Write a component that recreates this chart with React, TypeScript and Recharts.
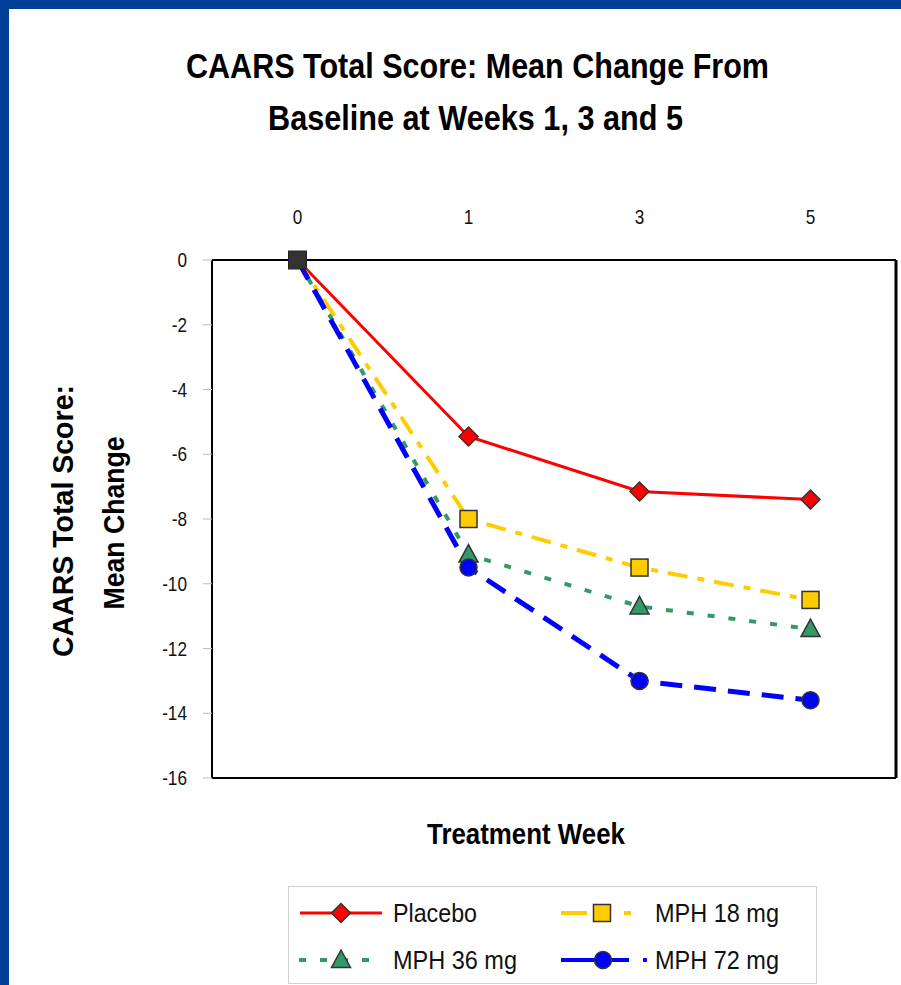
import React from 'react';
import { LineChart, Line, XAxis, YAxis } from 'recharts';

const weeks = ['0', '1', '3', '5'];
const placebo = [0, -5.45, -7.15, -7.4];
const mph18 = [0, -8.0, -9.5, -10.5];
const mph36 = [0, -9.1, -10.7, -11.4];
const mph72 = [0, -9.5, -13.0, -13.6];
const yTicks = [0, -2, -4, -6, -8, -10, -12, -14, -16];

const seriesNames = ['Placebo', 'MPH 18 mg', 'MPH 36 mg', 'MPH 72 mg'];

const data = weeks.map((w, i) => ({
  week: w,
  placebo: placebo[i],
  mph18: mph18[i],
  mph36: mph36[i],
  mph72: mph72[i],
}));

const FONT = '"Liberation Sans", Arial, sans-serif';
const RED = '#ff0000';
const GOLD = '#ffcc00';
const GREEN = '#339966';
const BLUE = '#0000ff';
const MSTROKE = '#333333';
const NAVY = '#003f98';

type Shape = 'diamond' | 'square' | 'triangle' | 'circle';

function Marker({ shape, cx, cy, fill }: { shape: Shape; cx: number; cy: number; fill: string }) {
  if (shape === 'diamond') {
    const r = 9.5;
    return <polygon points={`${cx},${cy - r} ${cx + r},${cy} ${cx},${cy + r} ${cx - r},${cy}`} fill={fill} stroke={MSTROKE} strokeWidth={1.5} />;
  }
  if (shape === 'square') {
    const h = 8.5;
    return <rect x={cx - h} y={cy - h} width={2 * h} height={2 * h} fill={fill} stroke={MSTROKE} strokeWidth={1.5} />;
  }
  if (shape === 'triangle') {
    return <polygon points={`${cx},${cy - 10} ${cx + 9.5},${cy + 7.5} ${cx - 9.5},${cy + 7.5}`} fill={fill} stroke={MSTROKE} strokeWidth={1.5} />;
  }
  return <circle cx={cx} cy={cy} r={8.5} fill={fill} stroke={MSTROKE} strokeWidth={1.5} />;
}

const makeDot = (shape: Shape, fill: string, drawStart: boolean) => (props: any) => {
  const { cx, cy, index } = props;
  if (cx == null || cy == null) return <g key={`e${index}`} />;
  if (index === 0) {
    if (!drawStart) return <g key={`s${index}`} />;
    return <rect key={`s${index}`} x={cx - 9} y={cy - 9} width={18} height={18} fill="#333333" stroke="#222" strokeWidth={1} />;
  }
  return (
    <g key={`d${index}`}>
      <Marker shape={shape} cx={cx} cy={cy} fill={fill} />
    </g>
  );
};

const styles = [
  { key: 'placebo', color: RED, dash: undefined as string | undefined, width: 3, shape: 'diamond' as Shape },
  { key: 'mph18', color: GOLD, dash: '20 10 7 10', width: 4, shape: 'square' as Shape },
  { key: 'mph36', color: GREEN, dash: '7 14', width: 4, shape: 'triangle' as Shape },
  { key: 'mph72', color: BLUE, dash: '22 12', width: 5, shape: 'circle' as Shape },
];

const XTick = (props: any) => {
  const { x, y, payload } = props;
  return (
    <text transform={`translate(${x},${y}) scale(0.86,1)`} textAnchor="middle" fontFamily={FONT} fontSize={20} fill="#111">
      {payload.value}
    </text>
  );
};

const YTick = (props: any) => {
  const { x, y, payload } = props;
  return (
    <text transform={`translate(${x},${y}) scale(0.86,1)`} dy="0.36em" textAnchor="end" fontFamily={FONT} fontSize={20} fill="#111">
      {payload.value}
    </text>
  );
};

function LegendItem({ col, y, idx }: { col: number; y: number; idx: number }) {
  const s = styles[idx];
  const textX = col === 0 ? 393 : 655;
  const textLen = idx === 0 ? 84 : 124;
  let lineEl: React.ReactNode = null;
  let mx = 341;
  if (idx === 0) {
    lineEl = <line x1={300} y1={y} x2={382} y2={y} stroke={s.color} strokeWidth={3} />;
  } else if (idx === 2) {
    lineEl = <line x1={299} y1={y} x2={378} y2={y} stroke={s.color} strokeWidth={4} strokeDasharray="7 14" />;
  } else if (idx === 1) {
    mx = 602;
    lineEl = (
      <g>
        <line x1={561} y1={y} x2={587} y2={y} stroke={s.color} strokeWidth={4} />
        <line x1={624} y1={y} x2={631} y2={y} stroke={s.color} strokeWidth={4} />
      </g>
    );
  } else {
    mx = 603;
    lineEl = (
      <g>
        <line x1={561} y1={y} x2={629} y2={y} stroke={s.color} strokeWidth={4} />
        <line x1={643} y1={y} x2={647} y2={y} stroke={s.color} strokeWidth={4} />
      </g>
    );
  }
  return (
    <g>
      {lineEl}
      <Marker shape={s.shape} cx={mx} cy={y} fill={s.color} />
      <text x={textX} y={y} dy="0.36em" fontFamily={FONT} fontSize={26} fill="#111" textLength={textLen} lengthAdjust="spacingAndGlyphs">
        {seriesNames[idx]}
      </text>
    </g>
  );
}

export default function App() {
  return (
    <div style={{ position: 'absolute', left: 0, top: 0, width: 901, height: 985, background: '#fff', overflow: 'hidden' }}>
      <style>{'body{margin:0}'}</style>
      <div style={{ position: 'absolute', left: 0, top: 0, width: 901, height: 9, background: NAVY }} />
      <div style={{ position: 'absolute', left: 0, top: 0, width: 9, height: 985, background: NAVY }} />
      <div style={{ position: 'absolute', left: 0, top: 0 }}>
        <LineChart width={901} height={985} data={data} margin={{ top: 210, right: 4, bottom: 206, left: 152 }}>
          <XAxis
            dataKey="week"
            orientation="top"
            scale="band"
            height={50}
            axisLine={{ stroke: '#000', strokeWidth: 2 }}
            tickLine={false}
            tickSize={0}
            tickMargin={36}
            tick={<XTick />}
            interval={0}
          />
          <XAxis
            xAxisId="b"
            dataKey="week"
            orientation="bottom"
            scale="band"
            height={1}
            tick={false}
            tickLine={false}
            axisLine={{ stroke: '#000', strokeWidth: 2 }}
          />
          <YAxis
            domain={[-16, 0]}
            ticks={yTicks}
            width={60}
            axisLine={{ stroke: '#000', strokeWidth: 2 }}
            tickLine={{ stroke: '#bbb' }}
            tickSize={9}
            tickMargin={16}
            tick={<YTick />}
            interval={0}
          />
          <YAxis
            yAxisId="r"
            orientation="right"
            domain={[-16, 0]}
            width={1}
            tick={false}
            tickLine={false}
            axisLine={{ stroke: '#000', strokeWidth: 3 }}
          />
          <Line
            xAxisId="b"
            yAxisId="r"
            dataKey="placebo"
            stroke="none"
            strokeWidth={0}
            dot={false}
            activeDot={false}
            isAnimationActive={false}
            legendType="none"
          />
          {styles.map((s, i) => (
            <Line
              key={s.key}
              dataKey={s.key}
              name={seriesNames[i]}
              type="linear"
              stroke={s.color}
              strokeWidth={s.width}
              strokeDasharray={s.dash}
              isAnimationActive={false}
              dot={makeDot(s.shape, s.color, i === styles.length - 1)}
              activeDot={false}
            />
          ))}
        </LineChart>
      </div>
      <svg width={901} height={985} style={{ position: 'absolute', left: 0, top: 0, pointerEvents: 'none' }}>
        <text x={477.5} y={78} textAnchor="middle" fontFamily={FONT} fontWeight="bold" fontSize={35} fill="#000" textLength={583} lengthAdjust="spacingAndGlyphs">
          CAARS Total Score: Mean Change From
        </text>
        <text x={475.5} y={130} textAnchor="middle" fontFamily={FONT} fontWeight="bold" fontSize={35} fill="#000" textLength={415} lengthAdjust="spacingAndGlyphs">
          Baseline at Weeks 1, 3 and 5
        </text>
        <text x={526} y={833} dy="0.36em" textAnchor="middle" fontFamily={FONT} fontWeight="bold" fontSize={30} fill="#000" textLength={198} lengthAdjust="spacingAndGlyphs">
          Treatment Week
        </text>
        <g transform="translate(62,521) rotate(-90)">
          <text x={0} y={0} dy="0.36em" textAnchor="middle" fontFamily={FONT} fontWeight="bold" fontSize={30} fill="#000" textLength={272} lengthAdjust="spacingAndGlyphs">
            CAARS Total Score:
          </text>
        </g>
        <g transform="translate(113,523) rotate(-90)">
          <text x={0} y={0} dy="0.36em" textAnchor="middle" fontFamily={FONT} fontWeight="bold" fontSize={30} fill="#000" textLength={173} lengthAdjust="spacingAndGlyphs">
            Mean Change
          </text>
        </g>
        <rect x={288.5} y={886.5} width={528} height={97} fill="none" stroke="#d0d0d0" strokeWidth={1} />
        <LegendItem col={0} y={913} idx={0} />
        <LegendItem col={1} y={913} idx={1} />
        <LegendItem col={0} y={960} idx={2} />
        <LegendItem col={1} y={960} idx={3} />
      </svg>
    </div>
  );
}
